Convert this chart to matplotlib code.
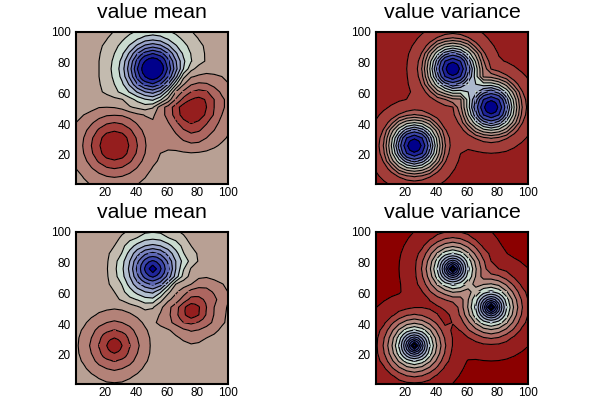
import numpy as np
import matplotlib
matplotlib.use('Agg')
import matplotlib.pyplot as plt
from matplotlib.colors import LinearSegmentedColormap

plt.rcParams['font.family'] = ['Liberation Sans', 'DejaVu Sans']

# field values, rows from y=101 down to y=1, in contour line units
grid_x = [1, 6, 11, 16, 21, 26, 31, 36, 41, 46, 51, 56, 61, 66, 71, 76, 81, 86, 91, 96, 101]
grid_y = [101, 96, 91, 86, 81, 76, 71, 66, 61, 56, 51, 46, 41, 36, 31, 26, 21, 16, 11, 6, 1]

mean_top = [
    [-.5,-.5,-.45,-.35,-.2,0,.35,.7,1,1.2,1.3,1.2,1,.7,.35,0,-.2,-.35,-.45,-.5,-.5],
    [-.5,-.48,-.42,-.25,-.05,.35,.8,1.3,1.8,2.3,2.5,2.3,1.8,1.3,.8,.35,-.05,-.25,-.42,-.48,-.5],
    [-.5,-.46,-.35,-.15,.2,.7,1.3,2.1,3.2,4.2,4.6,4.2,3.2,2.1,1.3,.7,.2,-.15,-.35,-.46,-.5],
    [-.5,-.45,-.3,-.07,.4,1,1.8,3.2,5,6.4,7,6.4,5,3.2,1.8,.95,.35,-.12,-.3,-.45,-.5],
    [-.5,-.43,-.25,0,.55,1.2,2.3,4.2,6.4,8,9,8,6.3,4.1,2.2,1.05,.41,-.12,-.34,-.5,-.5],
    [-.5,-.42,-.25,0,.6,1.3,2.5,4.6,7,9,10.8,8.9,6.8,4.4,2,.3,-.4,-.7,-.75,-.7,-.65],
    [-.5,-.43,-.25,0,.55,1.2,2.3,4.2,6.4,8,8.9,7.8,6,3.4,.3,-.9,-1.15,-1.2,-1.1,-1,-.85],
    [-.5,-.45,-.3,-.07,.4,1,1.8,3.2,5,6.3,6.9,6,4,1.2,-.9,-1.9,-2.2,-2.1,-1.7,-1.25,-1],
    [-.5,-.46,-.35,-.15,.2,.7,1.3,2.1,3.1,4,4.4,3.6,1.5,-1,-2.2,-3,-3.3,-3.1,-2.5,-1.8,-1.35],
    [-.6,-.55,-.5,-.45,-.4,-.25,-.05,.6,1.3,1.9,2.2,1.2,-.4,-2.1,-3.3,-4,-4.3,-3.9,-3,-2.2,-1.6],
    [-.75,-.8,-.85,-.97,-1,-.95,-.7,-.1,.2,.5,.1,-1.5,-2.4,-3.5,-4.5,-5,-4.8,-4,-3,-2.2,-1.6],
    [-.85,-1,-1.15,-1.6,-1.9,-1.95,-1.9,-1.6,-1.2,-.95,-.85,-1.5,-2.4,-3.4,-4.4,-4.9,-4.6,-3.8,-2.9,-2,-1.45],
    [-1,-1.25,-1.85,-2.45,-2.85,-3,-2.85,-2.45,-1.85,-1.3,-1.1,-1.25,-1.95,-2.8,-3.7,-4.1,-3.8,-3.1,-2.4,-1.7,-1.25],
    [-1.1,-1.7,-2.45,-3.15,-3.7,-3.9,-3.7,-3.15,-2.45,-1.7,-1.2,-1.2,-1.5,-2.2,-2.9,-3.3,-3.1,-2.6,-2,-1.45,-1.05],
    [-1.25,-2,-2.85,-3.7,-4.4,-4.8,-4.4,-3.7,-2.85,-2,-1.3,-1.25,-1.4,-1.7,-2.2,-2.5,-2.4,-2,-1.6,-1.2,-.85],
    [-1.3,-2.1,-3,-3.9,-4.8,-5.2,-4.8,-3.9,-3,-2.1,-1.25,-1.1,-1.2,-1.35,-1.6,-1.75,-1.7,-1.45,-1.15,-.85,-.7],
    [-1.25,-2,-2.85,-3.7,-4.4,-4.8,-4.4,-3.7,-2.85,-2,-1.2,-1,-.85,-.8,-.88,-.95,-.9,-.8,-.65,-.55,-.45],
    [-1.15,-1.7,-2.45,-3.15,-3.7,-3.9,-3.7,-3.15,-2.45,-1.7,-1.15,-.9,-.6,-.55,-.55,-.55,-.5,-.45,-.4,-.35,-.3],
    [-1,-1.3,-1.9,-2.45,-2.85,-3,-2.85,-2.45,-1.9,-1.3,-.95,-.6,-.45,-.4,-.4,-.4,-.38,-.35,-.3,-.28,-.25],
    [-.75,-1.05,-1.3,-1.7,-2,-2.1,-2,-1.7,-1.3,-1.05,-.7,-.5,-.4,-.35,-.35,-.35,-.33,-.3,-.28,-.25,-.22],
    [-.6,-.85,-1.05,-1.2,-1.3,-1.35,-1.3,-1.2,-1.02,-.8,-.55,-.4,-.35,-.3,-.3,-.3,-.28,-.25,-.22,-.2,-.2],
]

var_top = [
    [-1.3,-1.3,-1.3,-1.24,-1.05,-.72,-.3,.2,.7,1.15,1.3,1.15,.7,.2,-.3,-.72,-1.05,-1.24,-1.3,-1.3,-1.3],
    [-1.3,-1.3,-1.28,-1.12,-.78,-.3,.4,1.3,2.15,2.8,3.1,2.8,2.15,1.3,.4,-.3,-.78,-1.12,-1.28,-1.3,-1.3],
    [-1.3,-1.3,-1.23,-.95,-.5,.2,1.3,2.6,4.5,5.6,6,5.6,4.5,2.6,1.3,.25,-.45,-.92,-1.22,-1.3,-1.3],
    [-1.3,-1.3,-1.17,-.8,-.25,.7,2.15,4.5,6.6,8.5,9.4,8.5,6.6,4.6,2.3,.85,-.1,-.68,-1.08,-1.25,-1.3],
    [-1.3,-1.3,-1.12,-.72,-.1,1.15,2.8,5.6,8.5,11,11.7,11,8.7,5.8,3.1,1.5,.2,-.1,-.45,-.78,-1.05],
    [-1.3,-1.3,-1.1,-.7,0,1.3,3.1,6,9.4,11.7,13.5,11.9,9.8,6.5,3.7,1.95,1.5,.85,.25,-.3,-.72],
    [-1.3,-1.3,-1.12,-.72,-.1,1.15,2.8,5.6,8.5,11,11.9,11.4,9.15,6.45,3.85,3.7,3.1,2.3,1.35,.4,-.3],
    [-1.3,-1.28,-1.17,-.77,-.2,.75,2.2,4.5,6.6,8.5,9.8,9.15,7.6,7,6.45,6.5,5.85,4.6,2.65,1.3,.2],
    [-1.24,-1.12,-.93,-.71,-.35,.35,1.45,2.72,4.6,5.65,6.5,6.45,7,7.6,9.15,9.8,8.7,6.7,4.5,2.15,.7],
    [-1.05,-.78,-.5,-.2,.03,.25,.7,1.56,2.35,2.95,3.7,3.85,6.45,9.15,11.4,11.95,11,8.5,5.6,2.8,1.15],
    [-.72,-.3,.2,.7,1.15,1.45,1.4,1.08,1.08,1.7,1.95,3.7,6.5,9.8,11.95,13.5,11.7,9.4,6,3.1,1.3],
    [-.3,.4,1.3,2.15,2.8,3.1,2.8,2.15,1.55,.7,1.73,3.1,5.85,8.7,11,11.7,11,8.5,5.6,2.8,1.15],
    [.2,1.3,2.6,4.5,5.6,6,5.6,4.5,2.6,1.3,1.23,2.35,4.6,6.6,8.5,9.4,8.5,6.6,4.5,2.15,.7],
    [.7,2.15,4.5,6.6,8.5,9.4,8.5,6.6,4.5,2.15,1.08,1.55,2.72,4.5,5.6,6,5.6,4.5,2.6,1.3,.2],
    [1.15,2.8,5.6,8.5,11,11.7,11,8.5,5.6,2.8,1.4,.7,1.45,2.15,2.8,3.1,2.8,2.15,1.3,.4,-.3],
    [1.3,3.1,6,9.4,11.7,13.5,11.7,9.4,6,3.1,1.45,.25,.35,.7,1.15,1.3,1.15,.7,.2,-.3,-.72],
    [1.15,2.8,5.6,8.5,11,11.7,11,8.5,5.6,2.8,1.15,.03,-.35,-.25,-.1,0,-.1,-.25,-.5,-.78,-1.05],
    [.7,2.15,4.5,6.6,8.5,9.4,8.5,6.6,4.5,2.15,.7,-.25,-.75,-.75,-.72,-.7,-.72,-.8,-.95,-1.12,-1.24],
    [.2,1.3,2.6,4.5,5.6,6,5.6,4.5,2.6,1.3,.2,-.5,-.95,-1.13,-1.12,-1.1,-1.12,-1.17,-1.23,-1.28,-1.3],
    [-.3,.4,1.3,2.15,2.8,3.1,2.8,2.15,1.3,.4,-.3,-.78,-1.12,-1.28,-1.28,-1.28,-1.28,-1.3,-1.3,-1.3,-1.3],
    [-.72,-.3,.2,.7,1.15,1.3,1.15,.7,.2,-.3,-.72,-1.05,-1.24,-1.3,-1.3,-1.3,-1.3,-1.3,-1.3,-1.3,-1.3],
]

mean_bottom = [
    [-.5,-.5,-.5,-.5,-.5,-.4,-.15,.05,.4,.65,.75,.65,.4,.05,-.15,-.4,-.5,-.5,-.5,-.5,-.5],
    [-.5,-.5,-.5,-.5,-.45,-.22,.12,.75,1.05,1.65,1.8,1.65,1.05,.75,.12,-.22,-.45,-.5,-.5,-.5,-.5],
    [-.5,-.5,-.5,-.5,-.35,0,.75,1.5,2.4,3,3.25,3,2.4,1.5,.75,0,-.35,-.5,-.5,-.5,-.5],
    [-.5,-.5,-.5,-.46,-.2,.4,1.05,2.4,3.65,4.8,5.3,4.8,3.65,2.4,1.05,.4,-.15,-.46,-.5,-.5,-.5],
    [-.5,-.5,-.5,-.43,-.12,.65,1.65,3,4.8,6.4,7.15,6.4,4.8,3,1.65,.65,-.1,-.43,-.5,-.5,-.5],
    [-.5,-.5,-.5,-.42,-.08,.75,1.8,3.25,5.3,7.15,9,7.15,5.3,3,1.1,-.1,-.4,-.5,-.5,-.5,-.5],
    [-.5,-.5,-.5,-.43,-.12,.65,1.65,3,4.8,6.4,7.15,6.3,4.6,2.6,.6,-.4,-.8,-.9,-.7,-.55,-.5],
    [-.5,-.5,-.5,-.46,-.2,.4,1.05,2.4,3.65,4.6,5.2,4.5,2.4,0,-.6,-1,-1.6,-1.7,-1.4,-1.05,-.75],
    [-.5,-.5,-.5,-.5,-.35,0,.75,1.5,2.4,3,3.25,2.2,.3,-.85,-1.5,-2.4,-2.5,-2.3,-1.9,-1.35,-.9],
    [-.5,-.5,-.5,-.5,-.45,-.22,.12,.75,1.05,1.6,1.7,.4,-.8,-1.4,-2.5,-3.3,-3.3,-2.8,-2.2,-1.6,-.95],
    [-.5,-.52,-.58,-.65,-.75,-.85,-.75,-.55,-.15,.3,.1,-.75,-1.65,-2.6,-3.7,-5,-4.1,-3,-2,-1.25,-.85],
    [-.55,-.6,-.8,-1.15,-1.42,-1.5,-1.42,-1.15,-.8,-.55,-.5,-1.1,-1.75,-2.7,-3.8,-4.6,-4,-2.9,-1.95,-1.2,-.8],
    [-.58,-.8,-1.35,-1.7,-2,-2.15,-2,-1.7,-1.35,-.8,-.75,-1.3,-1.7,-2.3,-3,-3.2,-2.9,-2.4,-1.8,-1.15,-.75],
    [-.65,-1.15,-1.7,-2.3,-2.8,-3.05,-2.8,-2.3,-1.7,-1.15,-.62,-.6,-.9,-1.3,-1.8,-2.1,-1.95,-1.6,-1.25,-.8,-.55],
    [-.75,-1.42,-2,-2.8,-3.55,-4,-3.55,-2.8,-2,-1.42,-.72,-.55,-.6,-.85,-1.15,-1.35,-1.3,-1,-.75,-.58,-.5],
    [-.8,-1.5,-2.15,-3.05,-4,-5,-4,-3.05,-2.15,-1.5,-.75,-.55,-.5,-.6,-.75,-.9,-.8,-.65,-.55,-.5,-.5],
    [-.75,-1.42,-2,-2.8,-3.55,-4,-3.55,-2.8,-2,-1.42,-.72,-.55,-.5,-.5,-.52,-.55,-.52,-.5,-.5,-.5,-.5],
    [-.65,-1.15,-1.7,-2.3,-2.8,-3.05,-2.8,-2.3,-1.7,-1.15,-.65,-.55,-.5,-.5,-.5,-.5,-.5,-.5,-.5,-.5,-.5],
    [-.58,-.8,-1.35,-1.7,-2,-2.15,-2,-1.7,-1.35,-.8,-.58,-.5,-.5,-.5,-.5,-.5,-.5,-.5,-.5,-.5,-.5],
    [-.52,-.6,-.8,-1.15,-1.42,-1.5,-1.42,-1.15,-.8,-.6,-.52,-.5,-.5,-.5,-.5,-.5,-.5,-.5,-.5,-.5,-.5],
    [-.5,-.52,-.6,-.65,-.85,-.9,-.85,-.65,-.6,-.52,-.5,-.5,-.5,-.5,-.5,-.5,-.5,-.5,-.5,-.5,-.5],
]

var_bottom = [
    [-.6,-.6,-.55,-.42,-.25,-.02,.25,.43,.62,.75,.8,.75,.62,.43,.25,-.02,-.25,-.42,-.55,-.6,-.6],
    [-.6,-.6,-.5,-.31,-.07,.25,.5,.8,1.35,1.9,2.1,1.9,1.35,.8,.5,.25,-.07,-.31,-.5,-.6,-.6],
    [-.6,-.58,-.41,-.2,.12,.43,.8,1.75,2.7,3.45,3.8,3.45,2.7,1.75,.8,.45,.13,-.18,-.4,-.55,-.6],
    [-.6,-.55,-.35,-.09,.28,.62,1.35,2.7,4.15,5.5,6.1,5.5,4.15,2.75,1.5,.77,.43,.03,-.27,-.5,-.6],
    [-.6,-.52,-.31,-.02,.35,.75,1.9,3.45,5.5,7.9,9.5,7.9,5.68,3.67,2.14,1,.59,.43,.19,-.07,-.25],
    [-.6,-.52,-.3,0,.38,.8,2.1,3.8,6.1,9.5,15.5,9.7,6.35,4.1,2.45,1.15,1,.77,.5,.25,-.02],
    [-.6,-.52,-.31,-.02,.35,.75,1.9,3.45,5.5,7.9,9.7,8.17,5.85,3.94,2.53,2.44,2.14,1.5,.87,.5,.25],
    [-.55,-.5,-.35,-.09,.35,.69,1.42,2.76,4.15,5.5,6.36,5.85,4.74,3.52,3.94,4.1,3.67,2.83,1.75,.8,.43],
    [-.42,-.31,-.2,-.09,.27,.58,.95,1.88,2.8,3.5,4.1,3.94,3.52,4.74,5.85,6.36,5.68,4.15,2.7,1.35,.62],
    [-.25,-.07,.12,.28,.35,.59,.74,1.02,1.53,2.03,2.44,2.53,3.94,5.85,8.17,9.7,7.9,5.5,3.45,1.9,.75],
    [-.02,.25,.43,.62,.75,.95,.96,.88,.88,1.2,1.15,2.44,4.1,6.36,9.7,15.5,9.5,6.1,3.8,2.1,.8],
    [.25,.5,.8,1.35,1.9,2.1,1.9,1.35,1.02,.74,1.21,2.14,3.67,5.68,7.9,9.5,7.9,5.5,3.45,1.9,.75],
    [.43,.8,1.75,2.7,3.45,3.8,3.45,2.7,1.75,.8,1.03,1.53,2.75,4.15,5.5,6.1,5.5,4.15,2.7,1.35,.62],
    [.62,1.35,2.7,4.15,5.5,6.1,5.5,4.15,2.7,1.35,.88,1.02,1.88,2.7,3.45,3.8,3.45,2.7,1.75,.8,.43],
    [.75,1.9,3.45,5.5,7.9,9.5,7.9,5.5,3.45,1.9,.96,.74,.95,1.35,1.9,2.1,1.9,1.35,.8,.5,.25],
    [.8,2.1,3.8,6.1,9.5,15.5,9.5,6.1,3.8,2.1,.95,.59,.58,.62,.75,.8,.75,.62,.43,.25,-.02],
    [.75,1.9,3.45,5.5,7.9,9.5,7.9,5.5,3.45,1.9,.75,.48,.27,.28,.35,.38,.35,.28,.12,-.07,-.25],
    [.62,1.35,2.7,4.15,5.5,6.1,5.5,4.15,2.7,1.35,.62,.28,-.05,-.07,-.02,0,-.02,-.09,-.2,-.31,-.42],
    [.43,.8,1.75,2.7,3.45,3.8,3.45,2.7,1.75,.8,.43,.12,-.2,-.3,-.31,-.3,-.31,-.35,-.41,-.5,-.6],
    [.25,.5,.8,1.35,1.9,2.1,1.9,1.35,.8,.5,.25,-.07,-.31,-.45,-.5,-.5,-.5,-.55,-.6,-.6,-.6],
    [-.02,.25,.43,.62,.75,.8,.75,.62,.43,.25,-.02,-.25,-.42,-.55,-.6,-.6,-.6,-.6,-.6,-.6,-.6],
]

# finer readings around the peaks, 2.5 apart, rows from +10 down to -10 about the centre
patch_offsets = [-10, -7.5, -5, -2.5, 0, 2.5, 5, 7.5, 10]

mean_top_blue = [
    [5,5.7,6.4,6.7,7,6.7,6.4,5.7,5],
    [5.7,6.7,7.35,7.7,7.85,7.7,7.35,6.7,5.65],
    [6.4,7.35,8,8.6,9,8.6,8,7.3,6.3],
    [6.7,7.7,8.6,9.6,10,9.6,8.6,7.65,6.55],
    [7,7.85,9,10,10.8,10,8.9,7.8,6.8],
    [6.7,7.7,8.6,9.6,10,9.55,8.5,7.5,6.4],
    [6.4,7.35,8,8.6,8.9,8.5,7.8,7,6],
    [5.7,6.7,7.3,7.6,7.8,7.5,7,6.1,5],
    [5,5.65,6.3,6.6,6.9,6.45,6,5,4],
]
mean_top_right = [
    [-1,-1.6,-2.2,-2.6,-3,-3.15,-3.3,-3.2,-3.1],
    [-1.55,-2.2,-2.75,-3.2,-3.5,-3.7,-3.8,-3.65,-3.5],
    [-2.1,-2.7,-3.3,-3.7,-4,-4.2,-4.3,-4.1,-3.9],
    [-2.8,-3.4,-3.9,-4.3,-4.55,-4.6,-4.55,-4.25,-3.95],
    [-3.5,-4.05,-4.5,-4.8,-5,-5,-4.8,-4.4,-4],
    [-3.45,-4,-4.45,-4.8,-5,-4.95,-4.7,-4.3,-3.9],
    [-3.4,-3.95,-4.4,-4.7,-4.9,-4.8,-4.6,-4.2,-3.8],
    [-3.1,-3.55,-4.05,-4.3,-4.5,-4.35,-4.2,-3.8,-3.45],
    [-2.8,-3.25,-3.7,-3.9,-4.1,-3.95,-3.8,-3.45,-3.1],
]
mean_bottom_blue = [
    [3.65,4.2,4.8,5.05,5.3,5.05,4.8,4.2,3.65],
    [4.2,4.9,5.55,6.05,6.2,6.05,5.55,4.9,4.2],
    [4.8,5.55,6.4,6.85,7.15,6.85,6.4,5.55,4.8],
    [5.05,6.05,6.85,7.55,7.95,7.55,6.85,6.05,5.05],
    [5.3,6.2,7.15,7.95,9,7.95,7.15,6.2,5.3],
    [5.05,6.05,6.85,7.55,7.95,7.55,6.8,6,4.95],
    [4.8,5.55,6.4,6.85,7.15,6.8,6.3,5.45,4.6],
    [4.2,4.9,5.5,5.95,6.15,5.85,5.4,4.5,3.5],
    [3.65,4.1,4.6,4.9,5.2,4.85,4.5,3.45,2.4],
]
mean_bottom_right = [
    [-.85,-1.15,-1.5,-1.95,-2.4,-2.45,-2.5,-2.4,-2.3],
    [-1.1,-1.5,-2,-2.45,-2.85,-2.9,-2.9,-2.7,-2.55],
    [-1.4,-1.95,-2.5,-2.9,-3.3,-3.35,-3.3,-3.05,-2.8],
    [-2,-2.5,-3.1,-3.55,-3.95,-3.9,-3.7,-3.35,-2.9],
    [-2.6,-3.15,-3.7,-4.3,-5,-4.4,-4.1,-3.5,-3],
    [-2.65,-3.2,-3.75,-4.4,-5,-4.45,-4.05,-3.45,-2.95],
    [-2.7,-3.25,-3.8,-4.2,-4.6,-4.3,-4,-3.45,-2.9],
    [-2.5,-2.95,-3.4,-3.65,-3.9,-3.7,-3.45,-3.05,-2.65],
    [-2.3,-2.65,-3,-3.1,-3.2,-3.05,-2.9,-2.65,-2.4],
]

# round peaks: one reading per ring position, ring_code says which reading goes where
ring_code = [
    [14,13,12,11,10,11,12,13,14],
    [13,9,8,7,6,7,8,9,13],
    [12,8,5,4,3,4,5,8,12],
    [11,7,4,2,1,2,4,7,11],
    [10,6,3,1,0,1,3,6,10],
    [11,7,4,2,1,2,4,7,11],
    [12,8,5,4,3,4,5,8,12],
    [13,9,8,7,6,7,8,9,13],
    [14,13,12,11,10,11,12,13,14],
]
mean_top_red_rings = [-5.2,-5,-4.9,-4.8,-4.65,-4.4,-4.3,-4.2,-4.1,-3.8,-3.9,-3.8,-3.7,-3.45,-3.15]
mean_bottom_red_rings = [-5,-4.5,-4.25,-4,-3.8,-3.55,-3.45,-3.35,-3.2,-2.95,-3.05,-2.92,-2.8,-2.55,-2.3]
var_top_rings = [13.5,12.8,12.3,11.7,11.3,11,10.75,10.5,10,8.9,9.4,8.95,8.5,7.55,6.6]
var_bottom_rings = [15.5,11.9,10.65,9.5,9,7.9,7.6,7.35,6.7,5.8,6.1,5.8,5.5,4.85,4.15]

peak_low = (26, 26)
peak_top = (51, 76)
peak_right = (76, 51)

mean_levels = list(range(-4, 9))
var_top_levels = [0] + list(range(2, 13))
var_bottom_levels = list(range(0, 15))

titles = ['value mean', 'value variance', 'value mean', 'value variance']
tick_values = [20, 40, 60, 80, 100]

# dark red through tan and pale green to dark blue
stops = [(0, '#8b0000'), (.07, '#951f1f'), (.15, '#a33f3b'), (.25, '#ad6660'),
         (.33, '#b38278'), (.42, '#b8a094'), (.48, '#c3bcb0'), (.54, '#c9dccf'),
         (.62, '#a9b4cd'), (.72, '#7a84bf'), (.85, '#3c46a8'), (1, '#00008b')]
cmap = LinearSegmentedColormap.from_list('rb', stops)

mean_bands = [.07, .15, .25, .33, .42, .48, .54, .6, .66, .72, .78, .85, .92, 1.0]
var_top_bands = list(np.linspace(.07, 1, 13))
var_bottom_bands = [0.0, .07, .16, .26, .36, .45, .54, .6, .65, .7, .75, .8, .85, .9, .95, 1.0]

def rings(values):
    return np.array(values)[np.array(ring_code)]

panels = [
    (mean_top, mean_levels, mean_bands, [76, 32],
     [(peak_low, rings(mean_top_red_rings)), (peak_top, mean_top_blue), (peak_right, mean_top_right)]),
    (var_top, var_top_levels, var_top_bands, [376, 32],
     [(p, rings(var_top_rings)) for p in (peak_low, peak_top, peak_right)]),
    (mean_bottom, mean_levels, mean_bands, [76, 232],
     [(peak_low, rings(mean_bottom_red_rings)), (peak_top, mean_bottom_blue), (peak_right, mean_bottom_right)]),
    (var_bottom, var_bottom_levels, var_bottom_bands, [376, 232],
     [(p, rings(var_bottom_rings)) for p in (peak_low, peak_top, peak_right)]),
]

fig = plt.figure(figsize=(6, 4), dpi=100)

for (field, levels, bands, (left, top), patches), title in zip(panels, titles):
    ax = fig.add_axes([left / 600, 1 - (top + 152) / 400, 152 / 600, 152 / 400])
    band_colors = [cmap(float(t)) for t in bands]
    ax.contourf(grid_x, grid_y, np.array(field), levels=levels, colors=band_colors, extend='both', zorder=1)
    ax.contour(grid_x, grid_y, np.array(field), levels=levels, colors='black', linewidths=.8, linestyles='solid', zorder=2)
    for (cx, cy), z in patches:
        px = [cx + d for d in patch_offsets]
        py = [cy - d for d in patch_offsets]
        ax.contourf(px, py, np.array(z), levels=levels, colors=band_colors, extend='both', zorder=3)
        ax.contour(px, py, np.array(z), levels=levels, colors='black', linewidths=.8, linestyles='solid', zorder=4)
    ax.set_xlim(1, 100)
    ax.set_ylim(1, 100)
    ax.set_xticks(tick_values)
    ax.set_yticks(tick_values)
    ax.tick_params(length=0, labelsize=8.5, pad=4)
    ax.tick_params(axis='x', pad=2)
    for s in ax.spines.values():
        s.set_linewidth(1.5)
        s.set_zorder(10)
    ax.set_title(title, fontsize=15.3, pad=10)

plt.savefig('out.png', dpi=100)
